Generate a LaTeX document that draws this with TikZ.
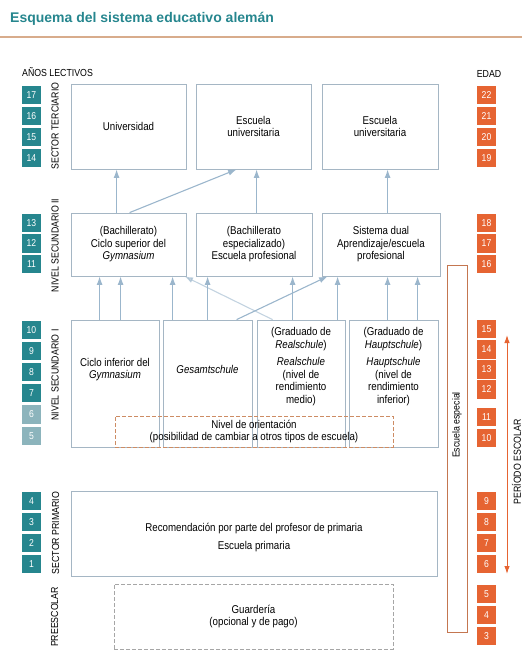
\documentclass[tikz,border=0pt]{standalone}
\usepackage{fontspec}
\setmainfont{Liberation Sans}[FakeStretch=0.86]
\newfontfamily\titlefont{Liberation Sans}
\usetikzlibrary{arrows.meta}
\definecolor{deteal}{RGB}{38,134,142}
\definecolor{detealclaro}{RGB}{140,180,188}
\definecolor{deorange}{RGB}{230,100,50}
\definecolor{boxgray}{RGB}{165,182,196}
\definecolor{arrblue}{RGB}{155,182,204}
\definecolor{especial}{RGB}{196,118,80}
\definecolor{orient}{RGB}{205,140,100}
\definecolor{linea}{RGB}{216,172,140}

\begin{document}
\begin{tikzpicture}[x=1pt,y=-1pt,
  box/.style={draw=boxgray, line width=0.8pt, inner sep=0pt, align=center, font=\fontsize{11.3}{12.5}\selectfont},
  boxtext/.style={inner sep=0pt, align=center, font=\fontsize{11.3}{12.5}\selectfont},
  num/.style={fill=deteal, text=white, minimum width=19pt, minimum height=18.5pt, inner sep=0pt, font=\fontsize{10}{10}\selectfont},
  numclaro/.style={num, fill=detealclaro},
  edad/.style={num, fill=deorange},
  sector/.style={rotate=90, inner sep=0pt, font=\fontsize{10.2}{10}\selectfont},
  arr/.style={draw=arrblue, line width=1.1pt, -{Latex[length=8.5pt,width=6pt]}}]
\useasboundingbox (0,0) rectangle (522,663);

%title
\node[anchor=west, inner sep=0pt, text=deteal, font=\titlefont\bfseries\fontsize{14}{14}\selectfont] (titulo) at (10,19) {Esquema del sistema educativo alemán};
\draw[linea, line width=1.5pt] (0,37) -- (522,37);
\node[anchor=west, inner sep=0pt, font=\fontsize{10.2}{10}\selectfont] (anios) at (22,72) {AÑOS LECTIVOS};
\node[inner sep=0pt, font=\fontsize{10.2}{10}\selectfont] (edadtxt) at (489,74) {EDAD};

%sector labels
\node[sector] (terc) at (55,126) {SECTOR TERCIARIO};
\node[sector] (secII) at (55,245.5) {NIVEL SECUNDARIO II};
\node[sector] (secI) at (55,375) {NIVEL SECUNDARIO I};
\node[sector] (prim) at (55.5,533) {SECTOR PRIMARIO};
\node[sector] (pre) at (54.5,617) {PREESCOLAR};

%years
\node[num] (a17) at (31.5,95) {17};
\node[num] (a16) at (31.5,116) {16};
\node[num] (a15) at (31.5,137) {15};
\node[num] (a14) at (31.5,158) {14};
\node[num] (a13) at (31.5,223) {13};
\node[num] (a12) at (31.5,243.5) {12};
\node[num] (a11) at (31.5,264) {11};
\node[num] (a10) at (31.5,330) {10};
\node[num] (a9) at (31.5,351) {9};
\node[num] (a8) at (31.5,372) {8};
\node[num] (a7) at (31.5,393) {7};
\node[numclaro] (a6) at (31.5,414.5) {6};
\node[numclaro] (a5) at (31.5,436) {5};
\node[num] (a4) at (31.5,501) {4};
\node[num] (a3) at (31.5,522) {3};
\node[num] (a2) at (31.5,543) {2};
\node[num] (a1) at (31.5,564) {1};

%ages
\node[edad] (e22) at (486.5,95) {22};
\node[edad] (e21) at (486.5,116) {21};
\node[edad] (e20) at (486.5,137) {20};
\node[edad] (e19) at (486.5,158) {19};
\node[edad] (e18) at (486.5,223) {18};
\node[edad] (e17) at (486.5,243.5) {17};
\node[edad] (e16) at (486.5,264) {16};
\node[edad] (e15) at (486.5,329) {15};
\node[edad] (e14) at (486.5,349.5) {14};
\node[edad] (e13) at (486.5,369.5) {13};
\node[edad] (e12) at (486.5,389.5) {12};
\node[edad] (e11) at (486.5,417) {11};
\node[edad] (e10) at (486.5,438) {10};
\node[edad] (e9) at (486.5,501) {9};
\node[edad] (e8) at (486.5,522) {8};
\node[edad] (e7) at (486.5,543) {7};
\node[edad] (e6) at (486.5,564) {6};
\node[edad] (e5) at (486.5,594) {5};
\node[edad] (e4) at (486.5,615) {4};
\node[edad] (e3) at (486.5,636) {3};

%tertiary
\node[box, minimum width=115pt, minimum height=85pt] (uni) at (128.5,126.5) {Universidad};
\node[box, minimum width=115pt, minimum height=85pt] (eu1) at (253.5,126.5) {Escuela\\universitaria};
\node[box, minimum width=116pt, minimum height=85pt] (eu2) at (380,126.5) {Escuela\\universitaria};

%secondary II
\node[box, minimum width=115pt, minimum height=63pt] (bach) at (128.5,244.5) {(Bachillerato)\\Ciclo superior del\\\textit{Gymnasium}};
\node[box, minimum width=116pt, minimum height=63pt] (espec) at (254,244.5) {(Bachillerato\\especializado)\\Escuela profesional};
\node[box, minimum width=118pt, minimum height=63pt] (dual) at (381,244.5) {Sistema dual\\Aprendizaje/escuela\\profesional};

%secondary I
\node[box, minimum width=88pt, minimum height=127pt] (gymI) at (115,383.5) {};
\node[box, minimum width=89pt, minimum height=127pt] (gesamt) at (207.5,383.5) {};
\node[box, minimum width=88pt, minimum height=127pt] (real) at (301,383.5) {};
\node[box, minimum width=89pt, minimum height=127pt] (haupt) at (393.5,383.5) {};
\node[boxtext] (gymItxt) at ([yshift=14pt]gymI.center) {Ciclo inferior del\\\textit{Gymnasium}};
\node[boxtext] (gesamttxt) at ([yshift=14.5pt]gesamt.center) {\textit{Gesamtschule}};
\node[boxtext] (realtxt) at ([yshift=17pt]real.center) {(Graduado de\\\textit{Realschule})\\[5pt]\textit{Realschule}\\(nivel de\\rendimiento\\medio)};
\node[boxtext] (haupttxt) at ([yshift=17pt]haupt.center) {(Graduado de\\\textit{Hauptschule})\\[5pt]\textit{Hauptschule}\\(nivel de\\rendimiento\\inferior)};
\node[box, draw=orient, dash pattern=on 4pt off 2pt, minimum width=278pt, minimum height=31pt] (orient) at (254,431.5) {Nivel de orientación\\(posibilidad de cambiar a otros tipos de escuela)};

%primary, preschool
\node[box, minimum width=366pt, minimum height=85pt] (primaria) at (254,533.5) {};
\node[boxtext] (primtxt) at ([yshift=-4.5pt]primaria.center) {Recomendación por parte del profesor de primaria\\[5.5pt]Escuela primaria};
\node[box, draw=gray!70, dash pattern=on 4pt off 2pt, minimum width=279pt, minimum height=65pt] (guarderia) at (253.5,616.5) {Guardería\\(opcional y de pago)};

%special school, school period
\node[draw=especial, line width=1pt, minimum width=20pt, minimum height=367pt, inner sep=0pt] (especial) at (457,448.5) {};
\node[sector] (especialtxt) at (457,425) {Escuela especial};
\coordinate (pesup) at (507,335);
\coordinate (peinf) at (507,574);
\draw[deorange, line width=1pt, {Latex[length=8pt,width=5.5pt]}-{Latex[length=8pt,width=5.5pt]}] (pesup) -- (peinf);
\node[sector] (periodo) at (516.5,462) {PERÍODO ESCOLAR};

%arrows secondary II -> tertiary
\draw[arr] ([xshift=46pt]bach.north west) -- ([xshift=46pt]uni.south west);
\draw[arr] ([xshift=59pt]bach.north west) -- ([xshift=41pt]eu1.south west);
\draw[arr] ([xshift=61pt]espec.north west) -- ([xshift=61pt]eu1.south west);
\draw[arr] ([xshift=66pt]dual.north west) -- ([xshift=66pt]eu2.south west);

%arrows secondary I -> secondary II
\draw[arr] ([xshift=29pt]gymI.north west) -- ([xshift=29pt]bach.south west);
\draw[arr] ([xshift=50pt]gymI.north west) -- ([xshift=50pt]bach.south west);
\draw[arr] ([xshift=10pt]gesamt.north west) -- ([xshift=102pt]bach.south west);
\draw[arr] ([xshift=45pt]gesamt.north west) -- ([xshift=12pt]espec.south west);
\draw[arr] ([xshift=74pt]gesamt.north west) -- ([xshift=6pt]dual.south west);
\draw[arr, opacity=0.6] ([xshift=16pt]real.north west) -- ([xshift=114pt]bach.south west);
\draw[arr] ([xshift=36pt]real.north west) -- ([xshift=97pt]espec.south west);
\draw[arr] ([xshift=81pt]real.north west) -- ([xshift=16pt]dual.south west);
\draw[arr] ([xshift=39pt]haupt.north west) -- ([xshift=66pt]dual.south west);
\draw[arr] ([xshift=69pt]haupt.north west) -- ([xshift=96pt]dual.south west);
\end{tikzpicture}
\end{document}
